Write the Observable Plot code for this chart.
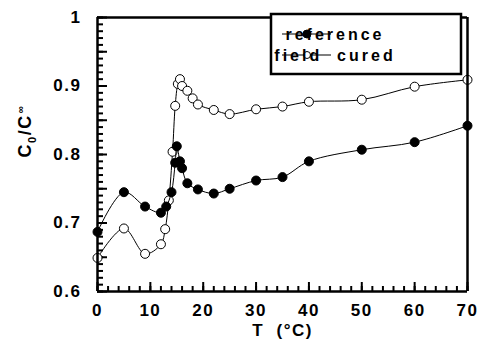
<!DOCTYPE html>
<html><head><meta charset="utf-8">
<script src="https://cdn.jsdelivr.net/npm/d3@7"></script>
<script src="https://cdn.jsdelivr.net/npm/@observablehq/plot@0.6"></script>
<style>
body{margin:0;background:#fff;}
#chart{position:relative;width:483px;height:347px;}
#chart > svg text{letter-spacing:1.5px;white-space:pre;}
</style></head><body><div id="chart"></div>
<script>
// Data
const refT   = [0, 5, 9, 12, 13, 14, 14.7, 15, 15.6, 16, 17, 19, 22, 25, 30, 35, 40, 50, 60, 70];
const refV   = [0.687, 0.745, 0.724, 0.715, 0.724, 0.745, 0.788, 0.812, 0.790, 0.780, 0.758, 0.749, 0.743, 0.750, 0.762, 0.767, 0.790, 0.807, 0.818, 0.842];
const fieldT = [0, 5, 9, 12, 12.8, 13.5, 14.2, 14.7, 15.2, 15.6, 16, 17, 18, 19, 22, 25, 30, 35, 40, 50, 60, 70];
const fieldV = [0.649, 0.692, 0.655, 0.669, 0.691, 0.733, 0.804, 0.871, 0.903, 0.910, 0.900, 0.893, 0.882, 0.873, 0.865, 0.859, 0.866, 0.870, 0.877, 0.880, 0.899, 0.909];
const seriesNames = ["reference", "field  cured"];
const xTicks = [0, 10, 20, 30, 40, 50, 60, 70];
const yTicks = [0.6, 0.7, 0.8, 0.9, 1];
const yTickLabels = ["0.6", "0.7", "0.8", "0.9", "1"];
const xLabel = "T  (°C)";
const xDomain = [0, 70];
const yDomain = [0.6, 1];
const xMinor = d3.range(0, 70.001, 2);
const xMajor = d3.range(0, 70.001, 10);
const yMinor = d3.range(0.6, 1.0001, 0.01).map(d => +d.toFixed(2));
const yMid = d3.range(0.6, 1.0001, 0.05).map(d => +d.toFixed(2));

const W = 483, H = 347, mL = 97, mR = 16, mT = 17, mB = 56;
const pw = W - mL - mR, ph = H - mT - mB;

const ref = refT.map((t, i) => ({T: t, v: refV[i]}));
const field = fieldT.map((t, i) => ({T: t, v: fieldV[i]}));

const plot = Plot.plot({
  width: W, height: H,
  marginLeft: mL, marginRight: mR, marginTop: mT, marginBottom: mB,
  x: {domain: xDomain},
  y: {domain: yDomain},
  style: {fontFamily: "'Liberation Sans', Arial, sans-serif", fontSize: "17px", fontWeight: "bold", color: "black", background: "white"},
  marks: [
    Plot.ruleY(yMinor, {y: d => d, insetRight: pw - 6, stroke: "black", strokeWidth: 2}),
    Plot.ruleY(yMid, {y: d => d, insetRight: pw - 10, stroke: "black", strokeWidth: 2}),
    Plot.ruleX(xMinor, {x: d => d, insetTop: ph - 5, stroke: "black", strokeWidth: 2}),
    Plot.ruleX(xMajor, {x: d => d, insetTop: ph - 9, stroke: "black", strokeWidth: 2}),
    Plot.axisX({ticks: xTicks, tickSize: 0, tickPadding: 12, label: xLabel, labelAnchor: "center", labelOffset: 44, labelArrow: false}),
    Plot.axisY({ticks: yTicks, tickSize: 0, tickPadding: 16, tickFormat: (d) => yTickLabels[yTicks.indexOf(d)], label: null}),
    Plot.line(field, {x: "T", y: "v", curve: "catmull-rom", stroke: "black", strokeWidth: 1}),
    Plot.dot(field, {x: "T", y: "v", r: 4.5, fill: "white", stroke: "black", strokeWidth: 1}),
    Plot.line(ref, {x: "T", y: "v", curve: "catmull-rom", stroke: "black", strokeWidth: 1}),
    Plot.dot(ref, {x: "T", y: "v", r: 4.5, fill: "black", stroke: "black", strokeWidth: 1}),
    Plot.ruleX(xDomain, {x: d => d, stroke: "black", strokeWidth: 2.5}),
    Plot.ruleY(yDomain, {y: d => d, stroke: "black", strokeWidth: 2.5})
  ]
});

document.getElementById("chart").appendChild(plot);
const svg = d3.select(plot);

// y-axis label with subscripts
const yl = svg.append("text")
  .attr("transform", "translate(31,131) rotate(-90)")
  .attr("text-anchor", "middle")
  .attr("font-size", 18).attr("font-weight", "bold").attr("fill", "black");
yl.append("tspan").text("C");
yl.append("tspan").attr("font-size", 11).attr("dy", 5).text("0");
yl.append("tspan").attr("dy", -5).text("/C");
yl.append("tspan").attr("font-size", 10).attr("dy", -7).attr("dx", 1).text("∞");

// legend drawn inside the same SVG
const lg = svg.append("g").attr("transform", "translate(270,13)");
lg.append("rect").attr("x", 1).attr("y", 1).attr("width", 190).attr("height", 60)
  .attr("fill", "white").attr("stroke", "black").attr("stroke-width", 2.5);
seriesNames.forEach((name, i) => {
  const cy = i === 0 ? 21 : 42;
  const filled = i === 0;
  lg.append("line").attr("x1", 12).attr("x2", 61).attr("y1", cy).attr("y2", cy)
    .attr("stroke", "black").attr("stroke-width", 1.2);
  lg.append("circle").attr("cx", 37).attr("cy", cy).attr("r", filled ? 4 : 3.5)
    .attr("fill", filled ? "black" : "white").attr("stroke", "black");
  lg.append("text").attr("x", 65).attr("y", cy).attr("dy", "0.35em")
    .attr("font-size", 16).attr("font-weight", "bold").attr("fill", "black")
    .style("letter-spacing", "3px").text(name);
});
</script>
</body></html>
